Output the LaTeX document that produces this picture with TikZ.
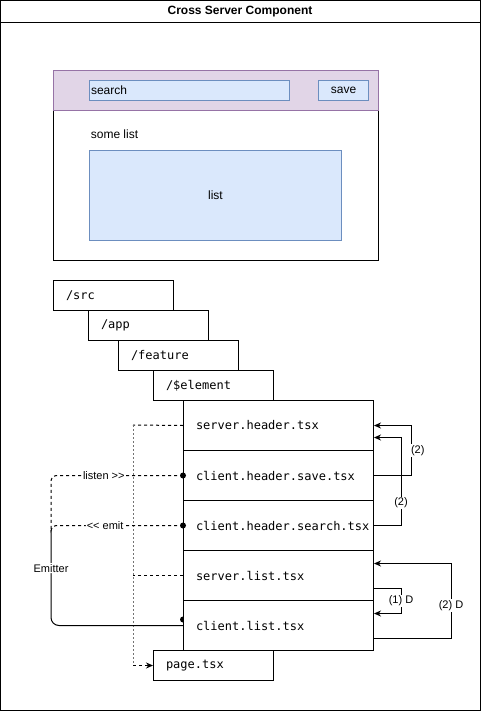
\documentclass[tikz,border=0pt]{standalone}
\usepackage{fontspec}
\setmainfont{Liberation Sans}
\newfontfamily\codefont{DejaVu Sans Mono}
\usetikzlibrary{arrows.meta,calc}

\definecolor{hdrfill}{HTML}{E1D5E7}
\definecolor{hdrline}{HTML}{9673A6}
\definecolor{uifill}{HTML}{DAE8FC}
\definecolor{uiline}{HTML}{6C8EBF}

\begin{document}
\begin{tikzpicture}[x=1pt,y=-1pt,line width=1pt,
  txt/.style={font=\fontsize{12}{14}\selectfont},
  lbl/.style={font=\fontsize{11}{13}\selectfont, fill=white, inner sep=1pt},
  codebox/.style={draw, fill=white, anchor=north west, align=left,
    font=\codefont\fontsize{12}{14}\selectfont,
    inner xsep=12.5pt, inner ysep=0pt, text width=#1},
  folder/.style={codebox=95pt, minimum height=30pt},
  part/.style={codebox=165pt, minimum height=50pt},
  uibox/.style={draw=uiline, fill=uifill, anchor=north west, txt},
  arr/.style={-{Stealth[length=7pt,width=6pt]}},
  dashline/.style={dash pattern=on 3pt off 3pt},
  busline/.style={black!55, dash pattern=on 2pt off 2pt},
  dot/.style={fill=black}]

\useasboundingbox (0,0) rectangle (481,711);

% outer frame with title band
\draw (0.5,0.5) rectangle (480.5,710.5);
\draw (0.5,23) -- (480.5,23);
\node[font=\bfseries\fontsize{12}{14}\selectfont] (title) at (240,12) {Cross Server Component};

% UI mock-up
\node[draw, anchor=north west, minimum width=325pt, minimum height=190pt] (ui) at (53,70) {};
\node[draw=hdrline, fill=hdrfill, anchor=north west, minimum width=325pt, minimum height=40pt] (uihead) at (53,70) {};
\node[uibox, minimum width=200pt, minimum height=20pt, inner xsep=1.5pt, inner ysep=0pt,
      text width=197pt, align=left] (search) at (89,80) {search};
\node[uibox, minimum width=50pt, minimum height=20pt] (save) at (318,80) {save};
\node[txt, anchor=west] (somelist) at (87,134) {some list};
\node[uibox, minimum width=252pt, minimum height=90pt] (list) at (89,150) {list};

% folder path
\node[folder] (src) at (53,280) {/src};
\node[folder] (app) at (88,310) {/app};
\node[folder] (feature) at (118,340) {/feature};
\node[folder] (element) at (153,370) {/\$element};

% files of the element
\node[part] (sh) at (183,400) {server.header.tsx};
\node[part] (csave) at (183,450) {client.header.save.tsx};
\node[part] (csearch) at (183,500) {client.header.search.tsx};
\node[part] (sl) at (183,550) {server.list.tsx};
\node[part] (cl) at (183,600) {client.list.tsx};
\node[folder] (page) at (153,650) {page.tsx};

% server components collected into the page
\coordinate (busTop) at (133,425);
\coordinate (busBot) at (page.west -| busTop);
\draw[dashline] (sh.west) -- (busTop);
\draw[dashline] (sl.west) -- (sl.west -| busTop);
\draw[busline] (busTop) -- (busBot);
\draw[dashline, arr] (busBot) -- (page.west);

% event emitter between client components
\coordinate (emTop) at (51,530);
\draw[dashline, rounded corners=5pt] (csave.west)
  -- node[lbl, pos=0.6] {listen >{}>} (csave.west -| emTop) -- (emTop);
\draw[dashline, rounded corners=5pt] (csearch.west)
  -- node[lbl, pos=0.59] {<{}< emit} (csearch.west -| emTop) -- (emTop);
\draw[rounded corners=8pt] (emTop)
  -- node[lbl, pos=0.4] {Emitter} (emTop |- cl.west) -- (cl.west);
\fill[dot] (csave.west) circle (3);
\fill[dot] (csearch.west) circle (3);
\fill[dot] (cl.west) ++(0,-3) arc[start angle=90, end angle=270, radius=3] -- cycle;

% dependencies between files
\draw[arr] (csave.east) -- ++(37,0)
  |- node[lbl, pos=0.25, anchor=west, xshift=-1.5pt] {(2)} (sh.east);
\draw[arr] (csearch.east) -- ++(27,0)
  |- node[lbl, pos=0.13] {(2)} ($(sh.east)+(0,12)$);
\draw[arr] ($(sl.east)+(0,13)$) -- ++(27,0)
  |- node[lbl, pos=0.25] {(1) D} ($(cl.east)+(0,-12)$);
\draw[arr] ($(cl.east)+(0,13)$) -- ++(77,0)
  |- node[lbl, pos=0.22] {(2) D} ($(sl.east)+(0,-12)$);

\end{tikzpicture}
\end{document}
